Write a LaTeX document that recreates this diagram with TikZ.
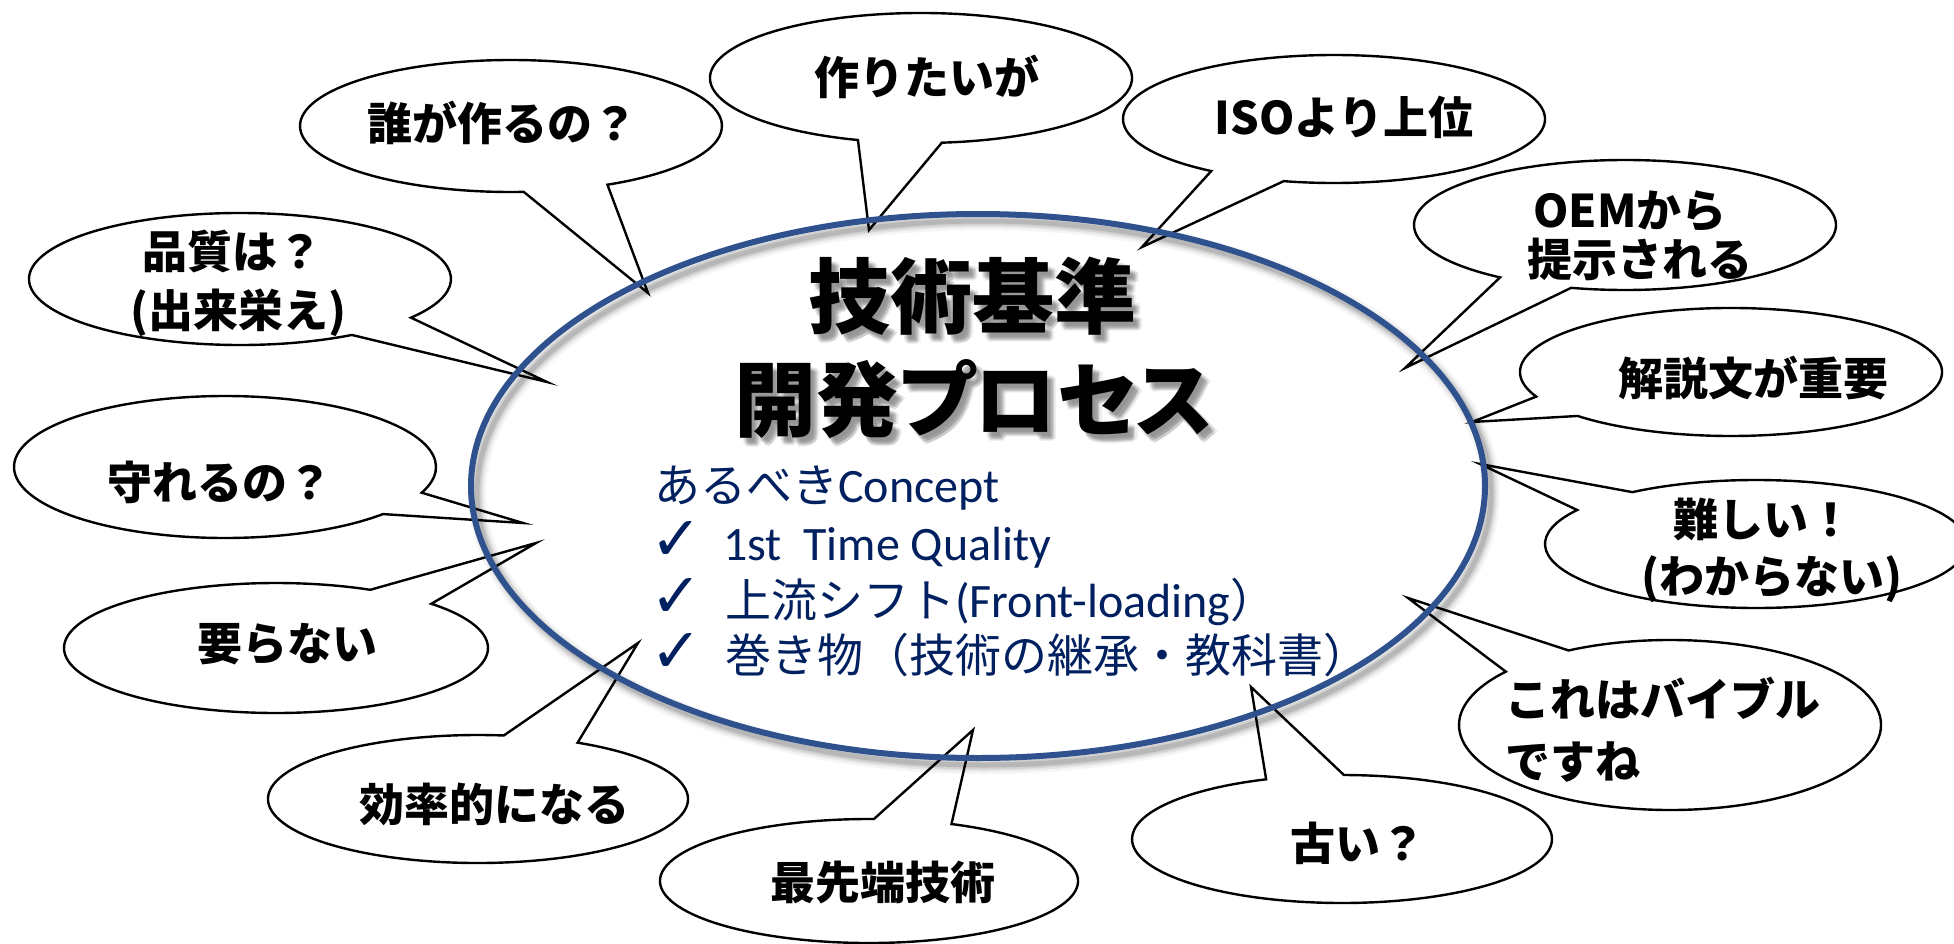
\documentclass[tikz,border=0pt]{standalone}
\usepackage{fontspec}
\newfontfamily\jp{Noto Sans CJK JP}
\newfontfamily\jpp[RawFeature=+palt]{Noto Sans CJK JP}
\newfontfamily\lat{Carlito}
\newfontfamily\sym{DejaVu Sans}
\definecolor{ringblue}{HTML}{2F528F}
\definecolor{navy}{HTML}{002060}
\tikzset{
  bubbleline/.style={draw=black, fill=white, line width=2.4pt, line join=miter},
  btext/.style={anchor=base, inner sep=0pt, font=\jp\bfseries\fontsize{45}{54}\selectfont},
  bltext/.style={anchor=base west, inner sep=0pt, font=\jp\bfseries\fontsize{45}{54}\selectfont},
  ttext/.style={anchor=base, inner sep=0pt, font=\jpp\bfseries\fontsize{82}{90}\selectfont},
  blue/.style={anchor=base west, inner sep=0pt, text=navy, font=\fontsize{46}{55}\selectfont},
  chk/.style={anchor=base west, inner sep=0pt, text=navy, font=\sym\bfseries\fontsize{62}{66}\selectfont},
}
% one shifted copy, centred on zero width
\newcommand\shcopy[3]{\makebox[0pt][c]{\hspace*{#1pt}\raisebox{-#2pt}{#3}}}
\newcommand\shadowtext[1]{\shcopy{6}{4}{#1}\shcopy{10}{6}{#1}\shcopy{14}{8}{#1}\shcopy{8}{7}{#1}\shcopy{14}{5}{#1}\shcopy{12}{9}{#1}\shcopy{18}{7}{#1}}
% \bubble{cx}{cy}{rx}{ry}{b1x}{b1y}{b2x}{b2y}{tip}
\newcommand\bubble[9]{%
 \pgfmathsetmacro\bta{atan2((#6-#2)/#4,(#5-#1)/#3)}%
 \pgfmathsetmacro\btb{atan2((#8-#2)/#4,(#7-#1)/#3)}%
 \pgfmathsetmacro\bdd{mod(\btb-\bta+540,360)-180}%
 \pgfmathsetmacro\bts{\bdd>0 ? \btb : \bta}%
 \pgfmathsetmacro\bte{(\bdd>0 ? \bta : \btb)+360}%
 \draw[bubbleline] (#1,#2) ++(\bts:#3 and #4) arc[start angle=\bts, end angle=\bte, x radius=#3, y radius=#4] -- (#9) -- cycle;}
\begin{document}
\begin{tikzpicture}[x=1pt,y=-1pt]
\fill[white] (0,0) rectangle (1954,944);
\useasboundingbox (0,0) rectangle (1954,944);
% pointer tips
\coordinate (p1) at (648,293);
\coordinate (p2) at (869,230);
\coordinate (p3) at (1142,247);
\coordinate (p4) at (1405,368);
\coordinate (p5) at (1472,422);
\coordinate (p6) at (1480,464);
\coordinate (p7) at (1408,598);
\coordinate (p8) at (1251,687);
\coordinate (p9) at (973,730);
\coordinate (p10) at (638,643);
\coordinate (p11) at (536,543);
\coordinate (p12) at (523,523);
\coordinate (p13) at (547,382);
% callouts
\bubble{511}{126}{211}{66}{523}{188}{603}{182}{p1}
\bubble{921}{78}{211}{65}{861}{137}{941}{140}{p2}
\bubble{1334}{119}{211}{64}{1209}{172}{1283}{182}{p3}
\bubble{1625}{225}{211}{65}{1501}{277}{1571}{288}{p4}
\bubble{1731}{372}{211}{64}{1533}{397}{1574}{417}{p5}
\bubble{1756}{544}{211}{64}{1632}{492}{1577}{510}{p6}
\bubble{1670}{725}{211}{85}{1568}{650}{1507}{672}{p7}
\bubble{1342}{839}{210}{64}{1267}{780}{1344}{773}{p8}
\bubble{869}{881}{209}{62}{874}{818}{953}{823}{p9}
\bubble{478}{799}{210}{64}{504}{735}{577}{743}{p10}
\bubble{276}{648}{212}{65}{370}{590}{434}{603}{p11}
\bubble{225}{467}{211}{71}{424}{493}{386}{515}{p12}
\bubble{240}{279}{211}{66}{408}{317}{348}{333}{p13}
% callout texts
\node[btext] (t1) at (502,141) {誰が作るの？};
\node[btext] (t2) at (927,95) {作りたいが};
\node[btext] (t3) at (1344,135) {ISOより上位};
\node[btext] (t4a) at (1630,227) {OEMから};
\node[btext] (t4b) at (1640,276) {提示される};
\node[btext] (t5) at (1753,395) {解説文が重要};
\node[btext] (t6a) at (1763,536) {難しい！};
\node[btext] (t6b) at (1772,593) {(わからない)};
\node[bltext] (t7a) at (1505,716) {これはバイブル};
\node[bltext] (t7b) at (1505,778) {ですね};
\node[btext] (t8) at (1358,860) {古い？};
\node[btext] (t9) at (883,899) {最先端技術};
\node[btext] (t10) at (494,821) {効率的になる};
\node[btext] (t11) at (287,660) {要らない};
\node[btext] (t12) at (220,499) {守れるの？};
\node[btext] (t13a) at (232,268) {品質は？};
\node[btext] (t13b) at (238,327) {(出来栄え)};
% main ellipse shadow
\foreach \w/\o in {18/0.04,13/0.06,9/0.09,5/0.12}
  \draw[black, opacity=\o, line width=\w pt] (984,493) ellipse[x radius=507, y radius=272];
\draw[ringblue, line width=6pt] (978,486) ellipse[x radius=507, y radius=272];
% title with soft shadow
\node[ttext, text=black, opacity=0.07] (ts1) at (972,327) {\shadowtext{技術基準}};
\node[ttext, text=black, opacity=0.07] (ts2) at (974,430) {\shadowtext{開発プロセス}};
\node[ttext] (title1) at (972,327) {技術基準};
\node[ttext] (title2) at (974,430) {開発プロセス};
% blue text
\node[blue] (b0) at (654,502) {{\jp あるべき}{\lat\fontsize{48}{55}\selectfont Concept}};
\node[chk] (c1) at (650,560) {✓};
\node[blue] (b1) at (723,560) {\lat\fontsize{48}{55}\selectfont 1st\ \ Time Quality};
\node[chk] (c2) at (650,617) {✓};
\node[blue] (b2) at (725,617) {{\jp 上流シフト}{\lat\fontsize{48}{55}\selectfont (Front-loading}{\jp ）}};
\node[chk] (c3) at (650,672) {✓};
\node[blue] (b3) at (725,672) {\jp 巻き物（技術の継承・教科書）};
\end{tikzpicture}
\end{document}
